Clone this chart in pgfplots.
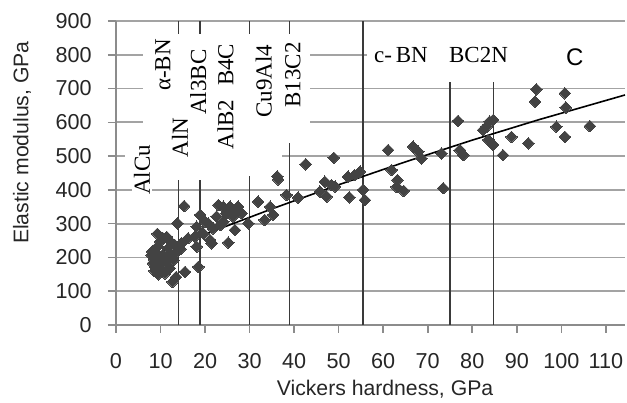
\documentclass[border=0pt]{standalone}
\usepackage{fontspec}
\setmainfont{Liberation Sans}
\newfontfamily\tnr{Liberation Serif}
\usepackage{pgfplots}
\pgfplotsset{compat=1.18}
\definecolor{gridgray}{HTML}{A3A3A3}
\definecolor{axgray}{HTML}{8C8C8C}
\definecolor{mk}{HTML}{434343}
\definecolor{vl}{HTML}{3A3A3A}
\pgfplotstableread{
h e
8.0 207
8.1 217
8.3 183
8.7 160
9.5 150
11.0 153
12.1 168
12.9 192
11.7 227
13.2 237
10.6 207
9.3 232
9.9 197
11.4 190
9.3 270
11.4 261
9.9 247
8.9 172
10.2 165
12.7 128
13.5 142
15.5 157
13.8 301
15.3 352
18.5 172
14.7 242
16.2 257
17.7 261
18.1 232
10.5 258
12.0 250
8.5 195
13.5 215
14.5 225
8.9 215
10.2 180
12.2 210
18.9 326
18.1 291
20.0 306
19.6 271
21.1 252
21.5 242
23.0 355
24.1 350
25.6 350
24.8 331
22.6 321
24.1 306
26.3 321
27.1 336
26.7 281
25.2 244
28.2 331
29.7 301
31.9 365
33.4 311
21.8 286
20.7 301
27.4 350
23.5 296
35.3 326
34.6 350
36.4 431
36.2 440
38.3 385
40.9 377
42.6 476
48.9 495
45.8 395
46.9 424
47.3 380
48.4 414
49.2 410
52.1 439
52.4 378
53.6 444
54.8 454
55.5 400
55.9 370
61.1 518
61.9 459
63.2 429
63.0 409
64.6 397
66.7 528
67.9 513
68.6 493
73.1 508
73.5 405
76.8 604
77.2 518
78.0 503
82.4 577
83.2 587
83.9 602
84.7 607
83.6 548
84.7 533
86.9 503
88.8 557
92.6 538
94.4 698
94.1 661
98.9 587
100.8 557
100.8 686
101.0 644
106.4 589
}\pts
\pgfplotstableread{
h e
7.3 202.5
20 268.8
35 343.7
50 415.2
65 483.0
80 547.3
95 608.0
114.3 681.0
}\trend
\begin{document}
\begin{tikzpicture}
\useasboundingbox (0,0) rectangle (313.5pt,201pt);
\begin{axis}[
  at={(58pt,38.5pt)}, anchor=south west,
  width=254.5pt, height=152pt, scale only axis,
  xmin=0, xmax=114.3, ymin=0, ymax=900,
  xtick={0,10,...,110}, ytick={0,100,...,900},
  axis x line*=bottom, axis y line*=left,
  axis line style={axgray, line width=0.8pt, -},
  tick style={axgray, line width=0.8pt},
  tick align=outside, major tick length=4pt,
  ymajorgrids, grid style={gridgray, line width=0.85pt},
  /pgf/number format/assume math mode=true,
  ticklabel style={font=\fontsize{10.8}{12}\selectfont, text=black!85},
  xticklabel style={inner sep=0pt, anchor=north, yshift=-10pt},
  yticklabel style={inner sep=0pt, anchor=east, xshift=-8pt},
  xlabel={Vickers hardness, GPa}, ylabel={Elastic modulus, GPa},
  label style={font=\fontsize{10.6}{12}\selectfont, text=black!85},
  xlabel style={at={(axis description cs:0.5285,0)}, anchor=north, inner sep=0pt, yshift=-27.5pt},
  ylabel style={at={(axis description cs:-0.1847,0.6)}, anchor=center},
]
\fill[white] (axis cs:6.1,577) rectangle (axis cs:43.5,858);
\fill[white] (axis cs:2.0,480) rectangle (axis cs:37.3,577);
\fill[white] (axis cs:56.3,740) rectangle (axis cs:114.3,858);

\addplot[vl, line width=0.8pt, forget plot] coordinates {(14,0) (14,429)};
\addplot[vl, line width=0.8pt, forget plot] coordinates {(14,862) (14,900)};
\addplot[vl, line width=0.8pt, forget plot] coordinates {(18.8,0) (18.8,429)};
\addplot[vl, line width=0.8pt, forget plot] coordinates {(18.8,862) (18.8,900)};
\addplot[vl, line width=0.8pt, forget plot] coordinates {(30,0) (30,440)};
\addplot[vl, line width=0.8pt, forget plot] coordinates {(30,862) (30,900)};
\addplot[vl, line width=0.8pt, forget plot] coordinates {(39,0) (39,539)};
\addplot[vl, line width=0.8pt, forget plot] coordinates {(39,862) (39,900)};
\addplot[vl, line width=0.8pt, forget plot] coordinates {(55.4,0) (55.4,900)};
\addplot[vl, line width=0.8pt, forget plot] coordinates {(75,0) (75,719)};
\addplot[vl, line width=0.8pt, forget plot] coordinates {(84.8,0) (84.8,719)};

\addplot[black, line width=0.8pt, no marks] table[x=h, y=e] {\trend};
\addplot[only marks, mark=square*, mark size=2.05pt,
  mark options={rotate=45, fill=mk, draw=mk, line width=0pt}] table[x=h, y=e] {\pts};

\node[font=\tnr\fontsize{11.5}{12}\selectfont, rotate=90, fill=white, inner sep=1pt] at (axis cs:5.84,459) {AlCu};
\node[font=\tnr\fontsize{11.5}{12}\selectfont, rotate=90, inner sep=1pt] at (axis cs:14.37,556) {AlN};
\node[font=\tnr\fontsize{11.5}{12}\selectfont, rotate=90, inner sep=1pt] at (axis cs:10.55,770) {α-BN};
\node[font=\tnr\fontsize{11.5}{12}\selectfont, rotate=90, inner sep=1pt] at (axis cs:18.5,719) {Al3BC};
\node[font=\tnr\fontsize{11.5}{12}\selectfont, rotate=90, inner sep=1pt] at (axis cs:24.6,676) {AlB2\hspace{0.6em}B4C};
\node[font=\tnr\fontsize{11.5}{12}\selectfont, rotate=90, inner sep=1pt] at (axis cs:33.2,722) {Cu9Al4};
\node[font=\tnr\fontsize{11.5}{12}\selectfont, rotate=90, inner sep=1pt] at (axis cs:39.7,740) {B13C2};
\node[font=\tnr\fontsize{11.5}{12}\selectfont, inner sep=1pt] at (axis cs:64.0,799) {c-\,BN};
\node[font=\tnr\fontsize{11.5}{12}\selectfont, inner sep=1pt] at (axis cs:81.4,799) {BC2N};
\node[font=\fontsize{12}{13}\selectfont, inner sep=1pt] at (axis cs:103.0,793) {C};
\end{axis}
\end{tikzpicture}
\end{document}
